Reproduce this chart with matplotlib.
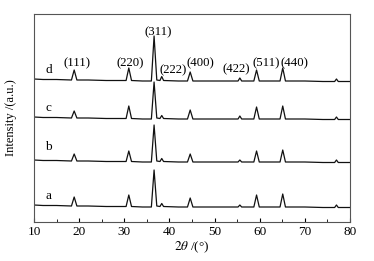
import matplotlib
matplotlib.use("Agg")
import matplotlib.pyplot as plt
from matplotlib.ticker import MultipleLocator

# XRD patterns (2theta in degrees, intensity in arbitrary offset units)
two_theta = [10, 12, 15, 18.3, 18.9, 19.5, 22, 26, 30.4, 31.0, 31.6, 34, 36.0, 36.6, 37.2,
             37.9, 38.3, 38.7, 42, 44.0, 44.6, 45.2, 50, 55.2, 55.6, 56.0, 58.7, 59.3, 59.9,
             62, 64.5, 65.1, 65.7, 70, 74, 76.6, 77.0, 77.4, 80]

intensity_a = [17, 16.5, 16.5, 16, 25, 16, 16, 15.5, 15.5, 27, 15.5, 15, 15, 52, 16,
               15.5, 18.5, 15.5, 15, 15, 24, 15, 15, 15, 17, 15, 15, 27, 15,
               15, 15, 28, 15, 15, 14.5, 14.5, 17, 14.5, 14.5]
intensity_b = [62, 61.5, 61.5, 61, 68, 61, 61, 60.5, 60.5, 71, 60.5, 60, 60, 97, 61,
               60.5, 63.5, 60.5, 60, 60, 68, 60, 60, 60, 62, 60, 60, 71, 60,
               60, 60, 72, 60, 60, 59.5, 59.5, 62, 59.5, 59.5]
intensity_c = [105, 104.5, 104.5, 104, 111, 104, 104, 103.5, 103.5, 116, 103.5, 103, 103, 140, 104,
               103.5, 106.5, 103.5, 103, 103, 112, 103, 103, 103, 106, 103, 103, 115, 103,
               103, 103, 116, 103, 103, 102.5, 102.5, 105, 102.5, 102.5]
intensity_d = [143, 142.5, 142.5, 142, 152, 142, 142, 141.5, 141.5, 154, 141.5, 141, 141, 186, 142,
               141.5, 145.5, 141.5, 141, 141, 150, 141, 141, 141, 144, 141, 141, 152, 141,
               141, 141, 154, 141, 141, 140.5, 140.5, 143, 140.5, 140.5]

sample_labels = ["a", "b", "c", "d"]
sample_label_y = [26, 75, 114, 152]

hkl_labels = ["(111)", "(220)", "(311)", "(222)", "(400)", "(422)", "(511)", "(440)"]
hkl_x = [19.6, 31.3, 37.4, 40.9, 46.8, 54.7, 61.4, 67.6]
hkl_y = [159, 159, 190, 152, 159, 153, 159, 159]

plt.rcParams["font.family"] = "Liberation Serif"
plt.rcParams["mathtext.fontset"] = "stix"

fig = plt.figure(figsize=(3.74, 2.61), dpi=100)
ax = fig.add_axes([34 / 374, 1 - 222 / 261, 316 / 374, 208 / 261])

for ys in (intensity_a, intensity_b, intensity_c, intensity_d):
    ax.plot(two_theta, ys, color="#111111", lw=0.9)

for lab, y in zip(sample_labels, sample_label_y):
    ax.text(13.2, y, lab, fontsize=9.5, ha="center", va="center")

for lab, x, y in zip(hkl_labels, hkl_x, hkl_y):
    ax.text(x, y, lab, fontsize=9.2, ha="center", va="center")

ax.set_xlim(10, 80)
ax.set_ylim(0, 208)
ax.xaxis.set_major_locator(MultipleLocator(10))
ax.xaxis.set_minor_locator(MultipleLocator(5))
ax.set_yticks([])
ax.tick_params(axis="x", which="both", direction="in", labelsize=9.5, pad=3)
ax.tick_params(axis="x", which="major", length=3)
ax.tick_params(axis="x", which="minor", length=2)
for s in ax.spines.values():
    s.set_color("#555555")
    s.set_linewidth(0.8)

ax.set_xlabel(r"$2\theta$ /(°)", fontsize=9.5, labelpad=1)
ax.set_ylabel("Intensity /(a.u.)", fontsize=9, labelpad=12)

fig.savefig("out.png", dpi=100)
